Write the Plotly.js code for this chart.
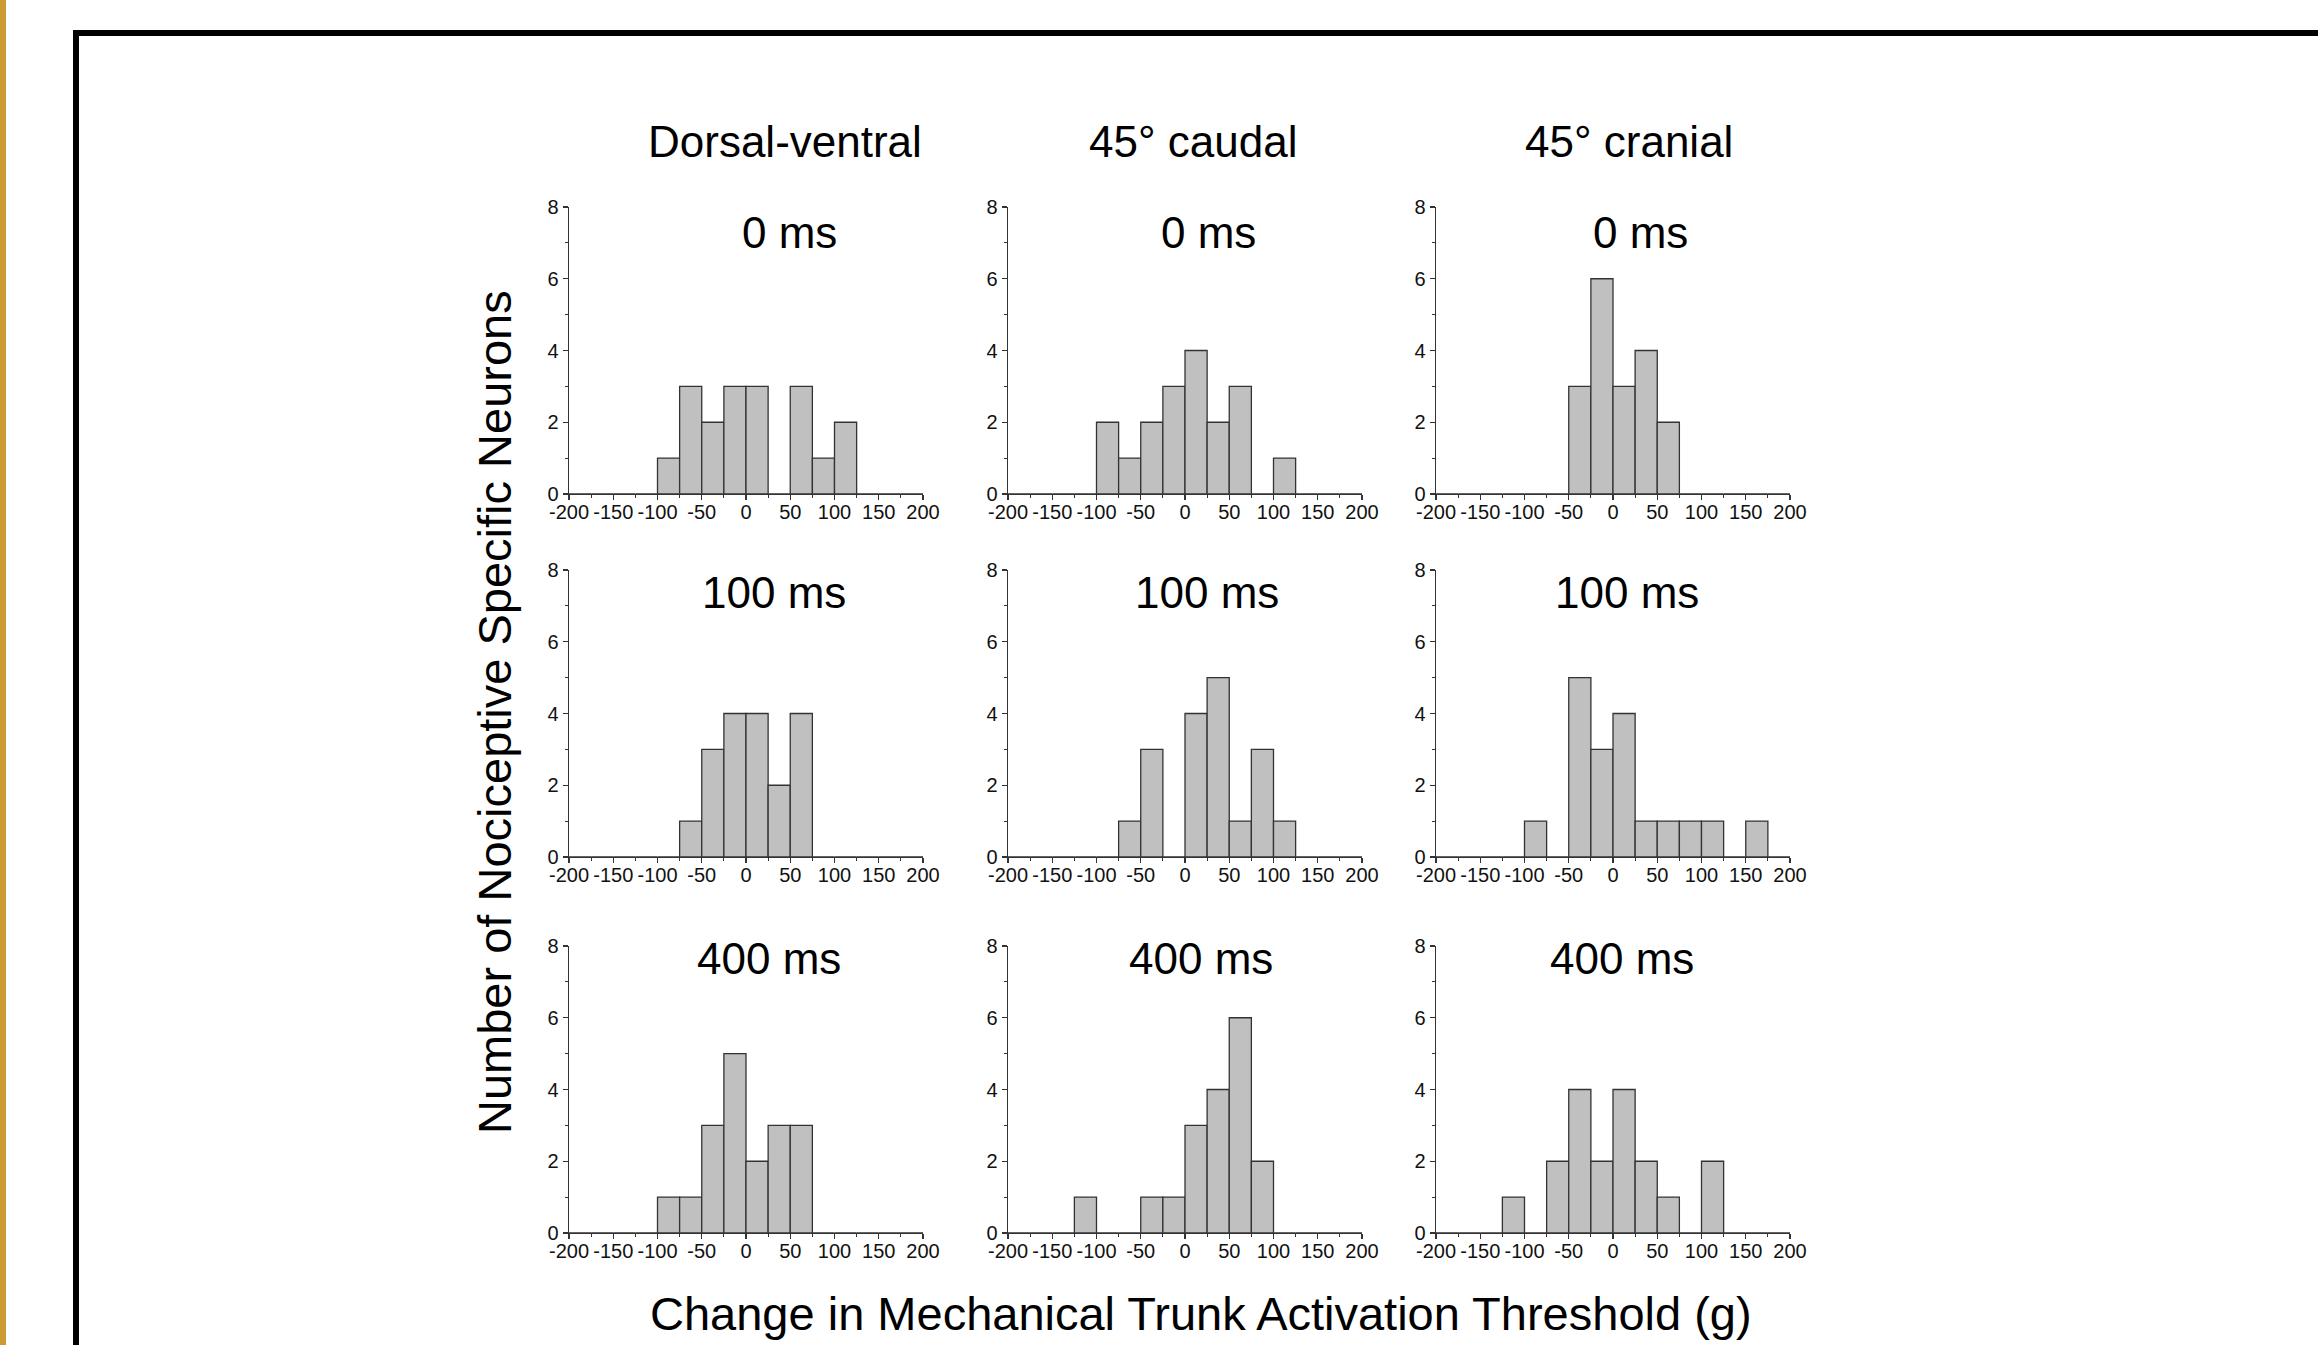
<!DOCTYPE html>
<html>
<head>
<meta charset="utf-8">
<script src="https://cdn.plot.ly/plotly-3.0.1.min.js"></script>
<style>
html,body{margin:0;padding:0;background:#fff;overflow:hidden;}
#chart{width:2318px;height:1345px;}
</style>
</head>
<body>
<div id="chart"></div>
<script>
// ---- data ----
const binCenters = [-187.5,-162.5,-137.5,-112.5,-87.5,-62.5,-37.5,-12.5,12.5,37.5,62.5,87.5,112.5,137.5,162.5,187.5];
const dv0        = [0,0,0,0,1,3,2,3,3,0,3,1,2,0,0,0];
const caudal0    = [0,0,0,0,2,1,2,3,4,2,3,0,1,0,0,0];
const cranial0   = [0,0,0,0,0,0,3,6,3,4,2,0,0,0,0,0];
const dv100      = [0,0,0,0,0,1,3,4,4,2,4,0,0,0,0,0];
const caudal100  = [0,0,0,0,0,1,3,0,4,5,1,3,1,0,0,0];
const cranial100 = [0,0,0,0,1,0,5,3,4,1,1,1,1,0,1,0];
const dv400      = [0,0,0,0,1,1,3,5,2,3,3,0,0,0,0,0];
const caudal400  = [0,0,0,1,0,0,1,1,3,4,6,2,0,0,0,0];
const cranial400 = [0,0,0,1,0,2,4,2,4,2,1,0,2,0,0,0];

const columnTitles = ["Dorsal-ventral","45° caudal","45° cranial"];
const rowTitles = ["0 ms","100 ms","400 ms"];
const xTickVals = [-200,-150,-100,-50,0,50,100,150,200];
const xTickText = ["-200","-150","-100","-50","0","50","100","150","200"];
const yTickVals = [0,2,4,6,8];
const yTickText = ["0","2","4","6","8"];
const xTitle = "Change in Mechanical Trunk Activation Threshold (g)";
const yTitle = "Number of Nociceptive Specific Neurons";

const panels = [
  [dv0, caudal0, cranial0],
  [dv100, caudal100, cranial100],
  [dv400, caudal400, cranial400]
];

// ---- layout geometry (pixels) ----
const W = 2318, H = 1345;
const colX = [[569,923],[1008,1362],[1436,1790]];
const rowY = [[207,494],[570,857],[946,1233]];
const rowLabelY = [233,593,958];
const rowLabelX = [[789,1208,1640],[774,1207,1627],[769,1201,1622]];
const colHeadX = [785,1193,1629];

const px = v => v / W;
const py = v => 1 - v / H;

const tickFont = {family:"'Liberation Sans',Arial,sans-serif", size:20, color:"#111"};
const bigFont = {family:"'Liberation Sans',Arial,sans-serif", size:44, color:"#000"};
const titleFont = {family:"'Liberation Sans',Arial,sans-serif", size:47, color:"#000"};
const axisCol = "#333";

const traces = [];
const layout = {
  width: W, height: H,
  margin:{l:0,r:0,t:0,b:0},
  paper_bgcolor:"#fff", plot_bgcolor:"rgba(0,0,0,0)",
  showlegend:false,
  bargap:0,
  annotations:[], shapes:[]
};

let k = 0;
for (let r = 0; r < 3; r++) {
  for (let c = 0; c < 3; c++) {
    k++;
    const xa = k === 1 ? "x" : "x" + k;
    const ya = k === 1 ? "y" : "y" + k;
    traces.push({
      type:"bar", x:binCenters, y:panels[r][c], width:25,
      xaxis:xa, yaxis:ya,
      marker:{color:"#c0c0c0", line:{color:"#333", width:1.3}},
      hoverinfo:"skip"
    });
    const xName = k === 1 ? "xaxis" : "xaxis" + k;
    const yName = k === 1 ? "yaxis" : "yaxis" + k;
    layout[xName] = {
      domain:[px(colX[c][0]), px(colX[c][1])], anchor:ya,
      range:[-200,200], tickvals:xTickVals, ticktext:xTickText, tickangle:0,
      showgrid:false, zeroline:false, showline:true, linecolor:axisCol, linewidth:1.3,
      ticks:"outside", ticklen:5, tickwidth:1.2, tickcolor:axisCol, tickfont:tickFont,
      ticklabelstandoff:-5,
      minor:{ticks:"outside", ticklen:3, tickwidth:1, tickcolor:axisCol, dtick:25, tick0:0, showgrid:false},
      fixedrange:true
    };
    layout[yName] = {
      domain:[py(rowY[r][1]), py(rowY[r][0])], anchor:xa,
      range:[0,8], tickvals:yTickVals, ticktext:yTickText,
      showgrid:false, zeroline:false, showline:true, linecolor:axisCol, linewidth:1.3,
      ticks:"outside", ticklen:5, tickwidth:1.2, tickcolor:axisCol, tickfont:tickFont,
      minor:{ticks:"outside", ticklen:3, tickwidth:1, tickcolor:axisCol, dtick:1, tick0:0, showgrid:false},
      fixedrange:true
    };
    layout.annotations.push({
      text:rowTitles[r], xref:"paper", yref:"paper",
      x:px(rowLabelX[r][c]), y:py(rowLabelY[r]), xanchor:"center", yanchor:"middle",
      showarrow:false, font:bigFont
    });
  }
}

for (let c = 0; c < 3; c++) {
  layout.annotations.push({
    text:columnTitles[c], xref:"paper", yref:"paper",
    x:px(colHeadX[c]), y:py(142), xanchor:"center", yanchor:"middle",
    showarrow:false, font:bigFont
  });
}
layout.annotations.push({
  text:xTitle, xref:"paper", yref:"paper", x:px(1201), y:py(1313),
  xanchor:"center", yanchor:"middle", showarrow:false, font:titleFont
});
layout.annotations.push({
  text:yTitle, xref:"paper", yref:"paper", x:px(494), y:py(712),
  xanchor:"center", yanchor:"middle", textangle:-90, showarrow:false, font:titleFont
});

// decorative frame
layout.shapes.push({type:"rect", xref:"paper", yref:"paper", x0:0, x1:px(6), y0:0, y1:1, fillcolor:"#cc9a33", line:{width:0}, layer:"below"});
layout.shapes.push({type:"rect", xref:"paper", yref:"paper", x0:px(73), x1:1, y0:py(36), y1:py(30), fillcolor:"#000", line:{width:0}, layer:"below"});
layout.shapes.push({type:"rect", xref:"paper", yref:"paper", x0:px(73), x1:px(79), y0:0, y1:py(30), fillcolor:"#000", line:{width:0}, layer:"below"});

Plotly.newPlot("chart", traces, layout, {displayModeBar:false, staticPlot:true});
</script>
</body>
</html>
